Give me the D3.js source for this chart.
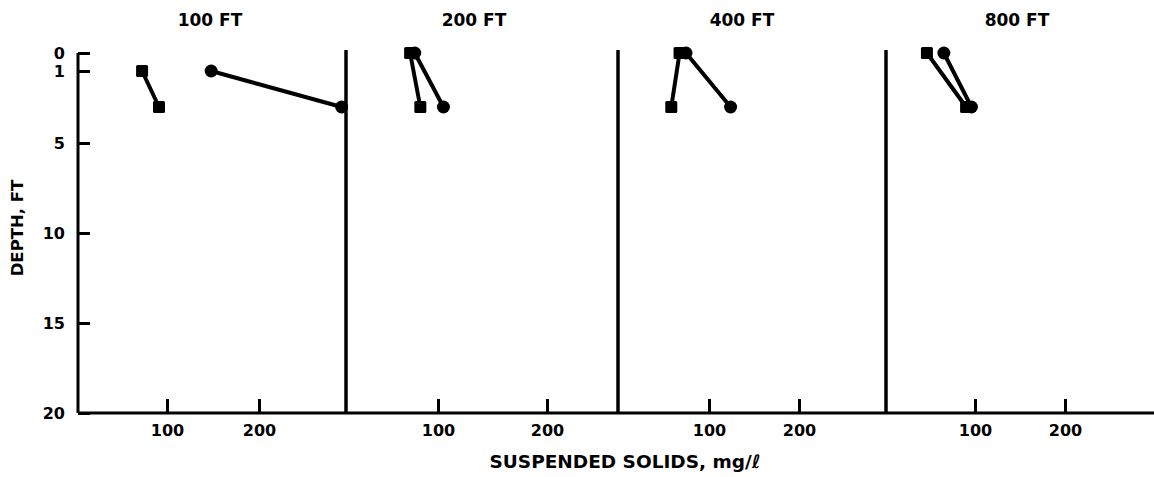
<!DOCTYPE html>
<html>
<head>
<meta charset="utf-8">
<script src="https://cdn.jsdelivr.net/npm/d3@7"></script>
<style>
  html, body { margin: 0; padding: 0; background: #fff; }
  svg { display: block; }
  text { font-family: "DejaVu Sans", sans-serif; font-weight: bold; fill: #000; }
</style>
</head>
<body>
<svg id="chart" width="1154" height="477"></svg>
<script>
// ---- data ----
const panelTitles = ["100 FT", "200 FT", "400 FT", "800 FT"];
const xTickValues = [100, 200];
const yTickValues = [0, 1, 5, 10, 15, 20];
// suspended solids (mg/l) and depth (ft) for square-marker series, per panel
const squareSolids = [[72, 91], [70, 81], [68, 59], [46, 90]];
const squareDepths = [[1, 3], [0, 3], [0, 3], [0, 3]];
// circle-marker series, per panel
const circleSolids = [[148, 295], [75, 105], [75, 124], [65, 96]];
const circleDepths = [[1, 3], [0, 3], [0, 3], [0, 3]];
const xLabel = "SUSPENDED SOLIDS, mg/ℓ";
const yLabel = "DEPTH, FT";

// ---- layout ----
const svg = d3.select("#chart");
const xDomain = [0, 100, 200, 300];
const panelRanges = [
  [78, 167, 259, 346],
  [345, 438, 547, 618],
  [617, 709, 799, 886],
  [886, 975, 1065, 1154]
];
const titleX = [210, 474, 742, 1017];
const y = d3.scaleLinear().domain([0, 20]).range([53, 413]);
const xScales = panelRanges.map(r => d3.scaleLinear().domain(xDomain).range(r));

// baseline
svg.append("line")
  .attr("x1", 78).attr("x2", 1154)
  .attr("y1", y(20)).attr("y2", y(20))
  .attr("stroke", "#000").attr("stroke-width", 3);

// y axis
const yAxis = svg.append("g")
  .attr("transform", "translate(78,0)")
  .call(d3.axisLeft(y).tickValues(yTickValues).tickSize(-12).tickPadding(13).tickFormat(d3.format("d")));
yAxis.select(".domain").remove();
yAxis.append("line").attr("x1", 0).attr("x2", 0).attr("y1", y(0)).attr("y2", y(20))
  .attr("stroke", "#000").attr("stroke-width", 3);
yAxis.selectAll(".tick line").attr("stroke", "#000").attr("stroke-width", 3);
yAxis.selectAll(".tick text").style("font-size", "16px").attr("fill", "#000")
  .style("font-family", "DejaVu Sans").style("font-weight", "bold");

// y label
svg.append("text")
  .attr("transform", "translate(23,228) rotate(-90)")
  .attr("text-anchor", "middle")
  .style("font-size", "16.5px")
  .text(yLabel);

// panels
panelTitles.forEach((title, i) => {
  const x = xScales[i];
  const g = svg.append("g");

  // x axis ticks
  const ax = g.append("g")
    .attr("transform", `translate(0,${y(20)})`)
    .call(d3.axisBottom(x).tickValues(xTickValues).tickSize(-14).tickPadding(12).tickFormat(d3.format("d")));
  ax.select(".domain").remove();
  ax.selectAll(".tick line").attr("stroke", "#000").attr("stroke-width", 3);
  ax.selectAll(".tick text").style("font-size", "16px").attr("fill", "#000")
    .style("font-family", "DejaVu Sans").style("font-weight", "bold");

  // right divider
  if (i < panelTitles.length - 1) {
    g.append("line")
      .attr("x1", x(300)).attr("x2", x(300))
      .attr("y1", y(0) - 3).attr("y2", y(20))
      .attr("stroke", "#000").attr("stroke-width", 3.5);
  }

  // title
  g.append("text")
    .attr("x", titleX[i]).attr("y", 26)
    .attr("text-anchor", "middle")
    .style("font-size", "17px")
    .text(title);

  const sq = squareSolids[i].map((v, k) => [v, squareDepths[i][k]]);
  const ci = circleSolids[i].map((v, k) => [v, circleDepths[i][k]]);
  const line = d3.line().x(d => x(d[0])).y(d => y(d[1]));

  [sq, ci].forEach(pts => {
    g.append("path").datum(pts)
      .attr("d", line)
      .attr("fill", "none").attr("stroke", "#000")
      .attr("stroke-width", 4).attr("stroke-linecap", "round");
  });

  g.selectAll("rect.sq").data(sq).enter().append("rect")
    .attr("x", d => x(d[0]) - 6).attr("y", d => y(d[1]) - 6)
    .attr("width", 12).attr("height", 12).attr("rx", 1.5)
    .attr("fill", "#000");

  g.selectAll("circle.ci").data(ci).enter().append("circle")
    .attr("cx", d => x(d[0])).attr("cy", d => y(d[1]))
    .attr("r", 6.5).attr("fill", "#000");
});

// x label
svg.append("text")
  .attr("x", 625).attr("y", 468)
  .attr("text-anchor", "middle")
  .style("font-size", "18.5px")
  .text(xLabel);
</script>
</body>
</html>
